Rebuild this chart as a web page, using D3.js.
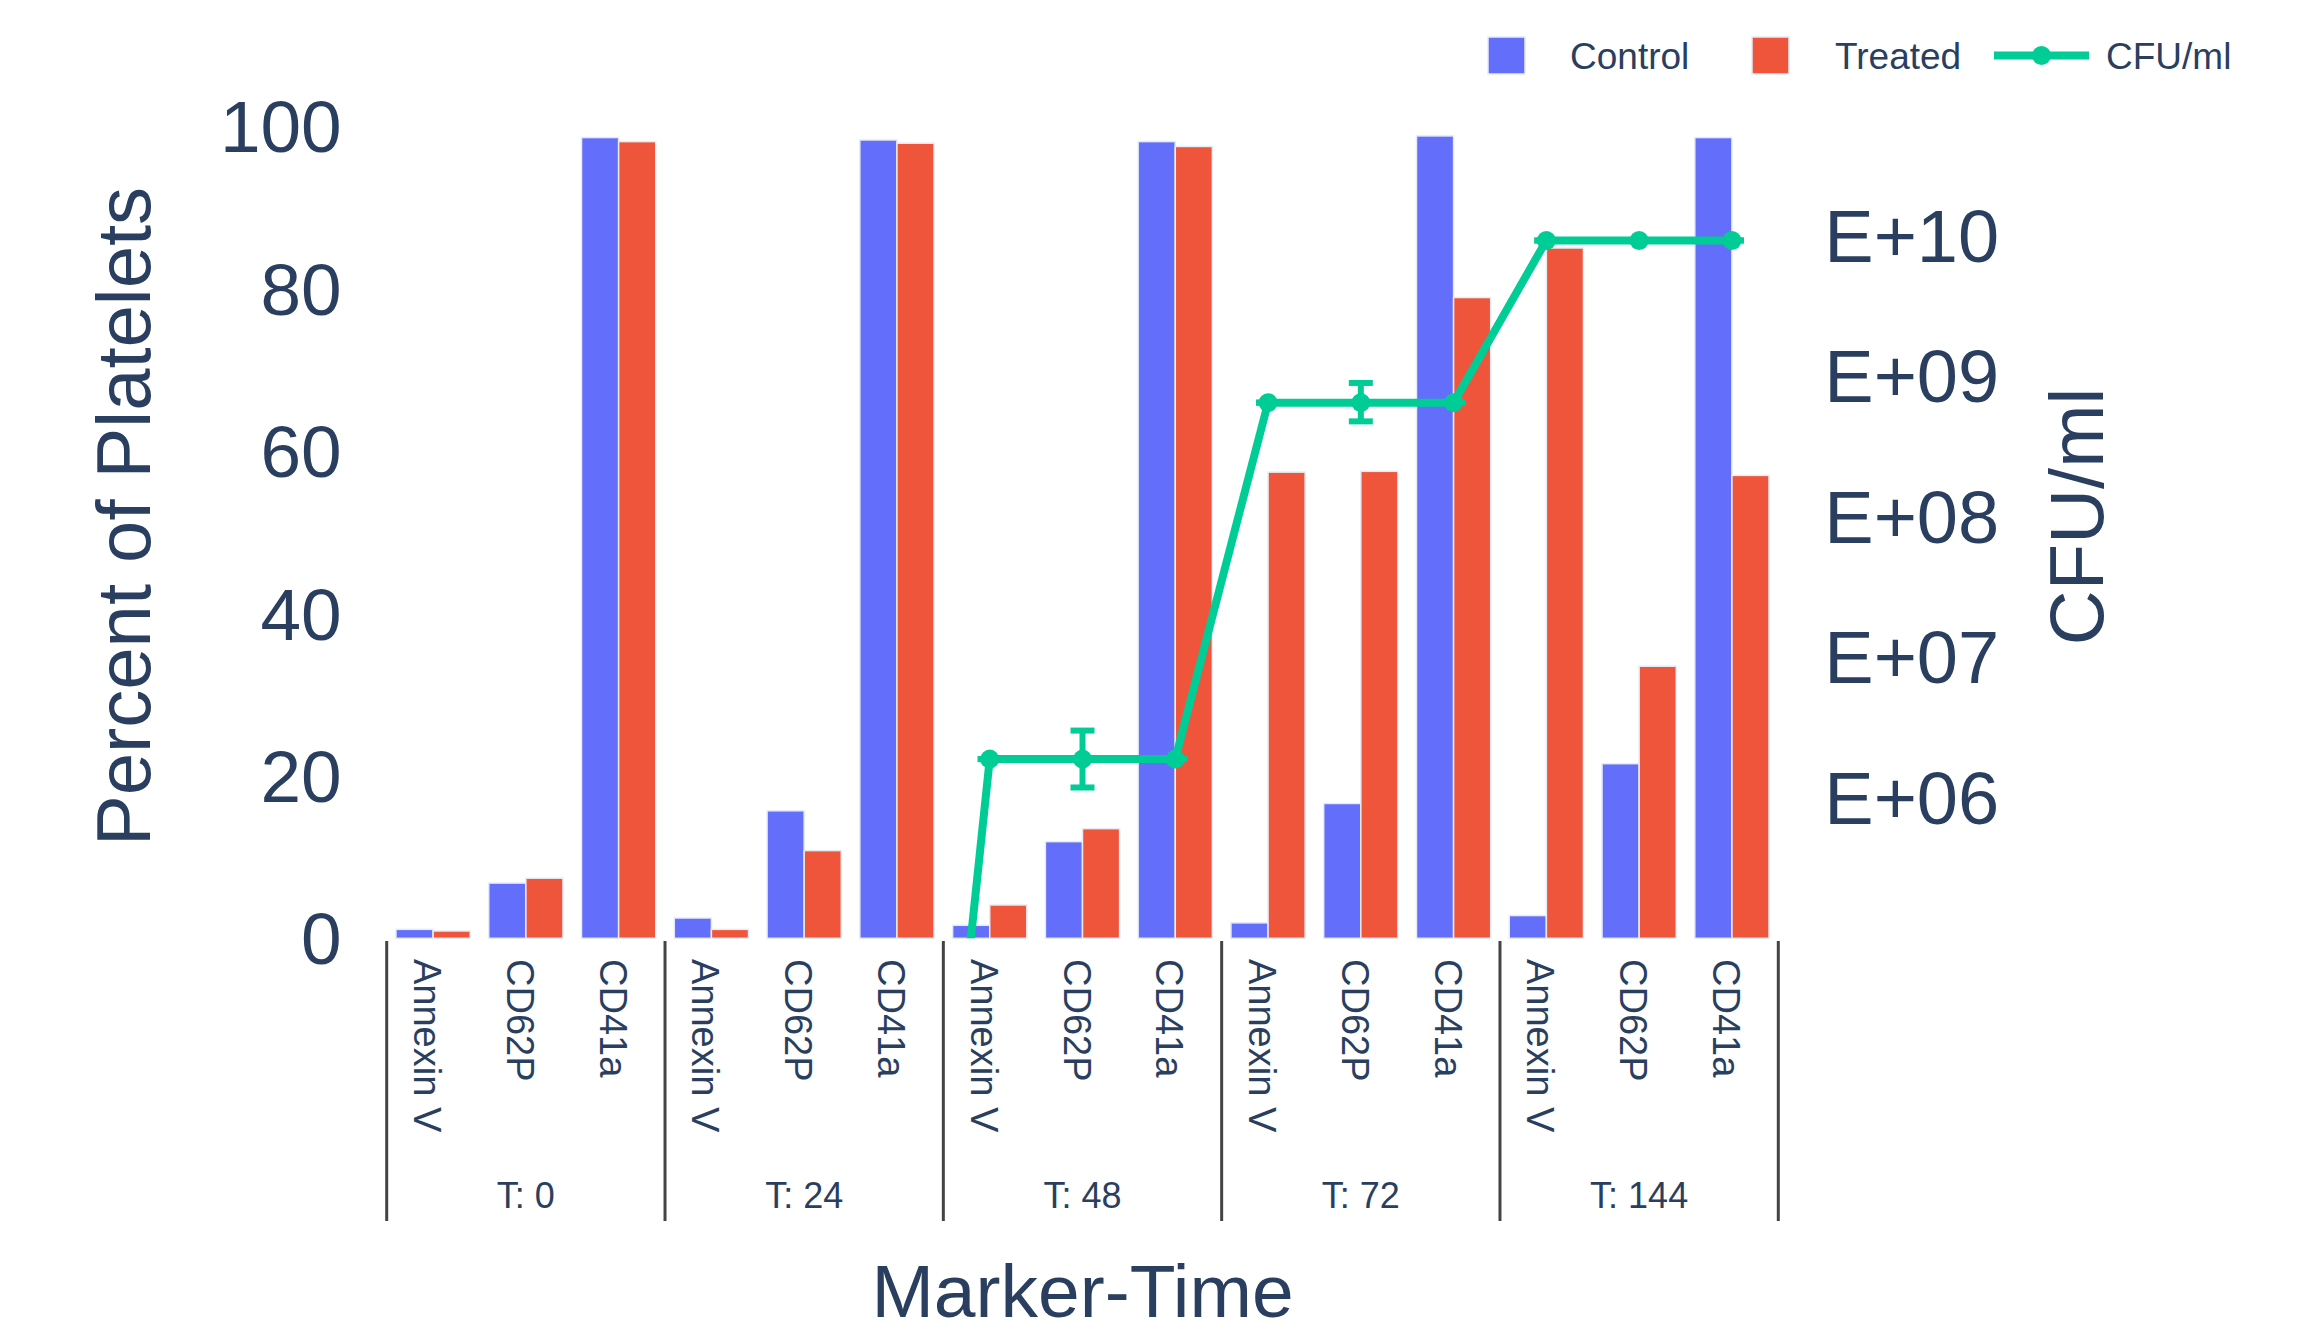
<!DOCTYPE html>
<html>
<head>
<meta charset="utf-8">
<script src="https://cdn.jsdelivr.net/npm/d3@7"></script>
<style>
  html, body { margin: 0; padding: 0; background: #fff; }
  svg { display: block; }
  text { font-family: "Liberation Sans", Arial, sans-serif; fill: #2a3f5f; }
</style>
</head>
<body>
<svg id="chart" width="2315" height="1337"></svg>
<script>
// ---------------- data ----------------
const markers = ["Annexin V", "CD62P", "CD41a"];
const timepoints = ["T: 0", "T: 24", "T: 48", "T: 72", "T: 144"];
const seriesNames = ["Control", "Treated"];
const control = [1.1, 6.8, 98.6, 2.5, 15.7, 98.3, 1.6, 11.9, 98.1, 1.9, 16.6, 98.8, 2.8, 21.5, 98.6];
const treated = [0.9, 7.4, 98.1, 1.1, 10.8, 97.9, 4.1, 13.5, 97.5, 57.4, 57.5, 78.9, 85.0, 33.5, 57.0];
const cfu = [1, 1, 1, 1, 1, 1, 1.88e6, 1.88e6, 1.88e6, 6.44e8, 6.44e8, 6.44e8, 9.17e9, 9.17e9, 9.17e9];
const cfuErrPlus = [0, 0, 0, 0, 0, 0, 0, 1.12e6, 0, 0, 2.45e8, 0, 0, 0, 0];
const cfuErrMinus = [0, 0, 0, 0, 0, 0, 0, 0.70e6, 0, 0, 1.70e8, 0, 0, 0, 0];
const leftTicks = [0, 20, 40, 60, 80, 100];
const rightTickVals = [1e6, 1e7, 1e8, 1e9, 1e10];
const rightTickLabels = ["E+06", "E+07", "E+08", "E+09", "E+10"];
const yTitle = "Percent of Platelets";
const y2Title = "CFU/ml";
const xTitle = "Marker-Time";

// ---------------- layout ----------------
const colors = { Control: "#636EFA", Treated: "#EF553B", line: "#00CC96" };
const plot = { left: 386.7, right: 1778.3, top: 94.5, bottom: 938.3 };

const keys = [];
timepoints.forEach(t => markers.forEach(m => keys.push(t + "|" + m)));

const svg = d3.select("#chart");
svg.append("rect").attr("width", 2315).attr("height", 1337).attr("fill", "#fff");

const x = d3.scaleBand().domain(keys).range([plot.left, plot.right]).padding(0);
const xs = d3.scaleBand().domain(seriesNames).range([0, x.bandwidth()]).paddingInner(0).paddingOuter(0.25);
const xGroup = d3.scaleBand().domain(timepoints).range([plot.left, plot.right]).padding(0);
const y = d3.scaleLinear().domain([0, 103.9]).range([plot.bottom, plot.top]);
const y2 = d3.scaleLog().domain([1e5, 1e11]).range([plot.bottom, plot.top]);

svg.append("clipPath").attr("id", "clip")
  .append("rect")
  .attr("x", plot.left).attr("y", plot.top)
  .attr("width", plot.right - plot.left).attr("height", plot.bottom - plot.top);

// bars
const barData = [];
keys.forEach((k, i) => {
  barData.push({ key: k, s: "Control", v: control[i] });
  barData.push({ key: k, s: "Treated", v: treated[i] });
});
svg.append("g").selectAll("rect").data(barData).join("rect")
  .attr("x", d => x(d.key) + xs(d.s))
  .attr("width", xs.bandwidth())
  .attr("y", d => y(d.v))
  .attr("height", d => y(0) - y(d.v))
  .attr("fill", d => colors[d.s])
  .attr("stroke", "#E5ECF6")
  .attr("stroke-width", 1.5);

// left axis
const yAxis = d3.axisLeft(y).tickValues(leftTicks).tickSize(0).tickPadding(45).tickFormat(d3.format("d"));
const gy = svg.append("g").attr("transform", `translate(${plot.left},0)`).call(yAxis);
gy.select(".domain").remove();
gy.selectAll("text").style("font-size", "73px").attr("fill", "#2a3f5f").attr("dy", "0.35em");

// right axis
const y2Axis = d3.axisRight(y2).tickValues(rightTickVals).tickSize(0).tickPadding(46)
  .tickFormat((d, i) => rightTickLabels[i]);
const gy2 = svg.append("g").attr("transform", `translate(${plot.right},0)`).call(y2Axis);
gy2.select(".domain").remove();
gy2.selectAll("text").style("font-size", "74px").attr("fill", "#2a3f5f").attr("dy", "0.35em");

// x category labels
const xl = svg.append("g");
keys.forEach((k, i) => {
  const cx = x(k) + x.bandwidth() / 2;
  xl.append("text")
    .attr("transform", `translate(${cx},959) rotate(90)`)
    .attr("dy", "0.5em")
    .attr("text-anchor", "start")
    .style("font-size", "38px")
    .text(k.split("|")[1]);
});
// group labels
timepoints.forEach(t => {
  xl.append("text")
    .attr("x", xGroup(t) + xGroup.bandwidth() / 2)
    .attr("y", 1208)
    .attr("text-anchor", "middle")
    .style("font-size", "36px")
    .text(t);
});
// dividers
const divX = timepoints.map(t => xGroup(t)).concat([plot.right]);
xl.selectAll("line.div").data(divX).join("line")
  .attr("class", "div")
  .attr("x1", d => d).attr("x2", d => d)
  .attr("y1", 941).attr("y2", 1221)
  .attr("stroke", "#444").attr("stroke-width", 3);

// CFU line, error bars, markers
const pts = keys.map((k, i) => ({
  x: x(k) + x.bandwidth() / 2, v: cfu[i], ep: cfuErrPlus[i], em: cfuErrMinus[i]
}));
const gl = svg.append("g").attr("clip-path", "url(#clip)");
gl.append("path")
  .attr("d", d3.line().x(d => d.x).y(d => y2(d.v))(pts))
  .attr("fill", "none").attr("stroke", colors.line).attr("stroke-width", 8)
  .attr("stroke-linejoin", "round");
const eb = gl.append("g").selectAll("g").data(pts).join("g");
eb.append("line")
  .attr("x1", d => d.x).attr("x2", d => d.x)
  .attr("y1", d => y2(d.v + d.ep)).attr("y2", d => y2(d.v - d.em))
  .attr("stroke", colors.line).attr("stroke-width", 6);
eb.append("line")
  .attr("x1", d => d.x - 12).attr("x2", d => d.x + 12)
  .attr("y1", d => y2(d.v + d.ep)).attr("y2", d => y2(d.v + d.ep))
  .attr("stroke", colors.line).attr("stroke-width", 6);
eb.append("line")
  .attr("x1", d => d.x - 12).attr("x2", d => d.x + 12)
  .attr("y1", d => y2(d.v - d.em)).attr("y2", d => y2(d.v - d.em))
  .attr("stroke", colors.line).attr("stroke-width", 6);
gl.append("g").selectAll("circle").data(pts).join("circle")
  .attr("cx", d => d.x).attr("cy", d => y2(d.v)).attr("r", 9.5)
  .attr("fill", colors.line);

// axis titles
svg.append("text")
  .attr("transform", `translate(149.5,${(plot.top + plot.bottom) / 2}) rotate(-90)`)
  .attr("text-anchor", "middle").style("font-size", "76px").text(yTitle);
svg.append("text")
  .attr("transform", `translate(2103,${(plot.top + plot.bottom) / 2}) rotate(-90)`)
  .attr("text-anchor", "middle").style("font-size", "76px").text(y2Title);
svg.append("text")
  .attr("x", (plot.left + plot.right) / 2).attr("y", 1317)
  .attr("text-anchor", "middle").style("font-size", "75px").text(xTitle);

// legend
const lg = svg.append("g");
const legItems = [
  { name: "Control", type: "bar", sx: 1488, tx: 1570 },
  { name: "Treated", type: "bar", sx: 1752, tx: 1835 },
  { name: "CFU/ml", type: "line", sx: 1994, tx: 2106 }
];
legItems.forEach(it => {
  if (it.type === "bar") {
    lg.append("rect").attr("x", it.sx).attr("y", 37).attr("width", 37).attr("height", 37)
      .attr("fill", colors[it.name]).attr("stroke", "#E5ECF6").attr("stroke-width", 1.5);
  } else {
    lg.append("line").attr("x1", it.sx).attr("x2", it.sx + 95).attr("y1", 55.5).attr("y2", 55.5)
      .attr("stroke", colors.line).attr("stroke-width", 8);
    lg.append("circle").attr("cx", it.sx + 47.5).attr("cy", 55.5).attr("r", 9.5).attr("fill", colors.line);
  }
  lg.append("text").attr("x", it.tx).attr("y", 69).style("font-size", "37px").text(it.name);
});
</script>
</body>
</html>
